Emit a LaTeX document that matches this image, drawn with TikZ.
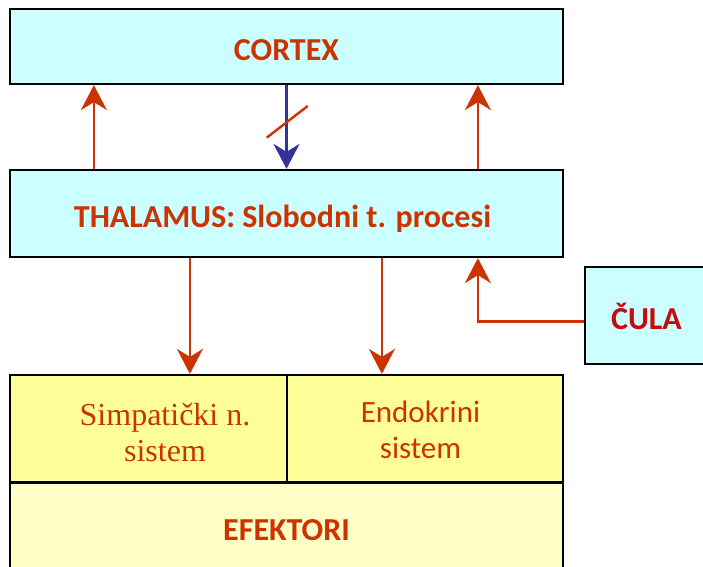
\documentclass[tikz,border=0pt]{standalone}
\usepackage{fontspec}
\setmainfont{Carlito}
\newfontfamily\serifface{Liberation Serif}
\usepackage{tikz}
\usetikzlibrary{arrows.meta}
\definecolor{rust}{RGB}{204,51,0}
\definecolor{deepred}{RGB}{200,10,10}
\definecolor{navy}{RGB}{51,51,153}
\definecolor{palecyan}{RGB}{204,255,255}
\definecolor{lemon}{RGB}{255,255,153}
\definecolor{cream}{RGB}{255,255,198}

\tikzset{
  box/.style={draw=black, line width=2.2pt, rectangle, inner sep=0pt,
    font=\fontsize{32}{36}\selectfont\bfseries, text=rust,
    text height=33pt, text depth=6pt},
  feed/.style={draw=rust, line width=2.7pt,
    -{Stealth[length=25pt,width=26pt,inset=8pt]}},
  sysname/.style={text=rust, align=center},
}

\begin{document}
\begin{tikzpicture}[x=1pt, y=-1pt]
  \clip (0,0) rectangle (703,566);
  % boxes
  \node[box, fill=palecyan, minimum width=553pt, minimum height=75pt] (cortex) at (286.5,46.5) {CORTEX};
  \node[box, fill=palecyan, minimum width=553pt, minimum height=87pt] (thalamus) at (286.5,213.5) {\hspace*{-8pt}THALAMUS: Slobodni t. procesi};
  \node[box, fill=palecyan, text=deepred, minimum width=123pt, minimum height=97pt] (cula) at (646.5,315.5) {ČULA};
  \node[box, fill=lemon, minimum width=277pt, minimum height=107.5pt] (simpbox) at (148.5,428.75) {};
  \node[box, fill=lemon, minimum width=276pt, minimum height=107.5pt] (endobox) at (425,428.75) {};
  \node[box, fill=cream, minimum width=553pt, minimum height=88pt] (efektori) at (286.5,526.5) {EFEKTORI};
  \node[sysname, font=\serifface\fontsize{32}{36.5}\selectfont] (simptext) at (165,432.5) {Simpatički n.\\sistem};
  \node[sysname, font=\fontsize{31}{36.5}\selectfont] (endotext) at (420.5,430) {Endokrini\\sistem};
  % ascending paths
  \draw[feed] ([xshift=85pt]thalamus.north west) -- ([xshift=85pt]cortex.south west);
  \draw[feed] ([xshift=469pt]thalamus.north west) -- ([xshift=469pt]cortex.south west);
  % blocked descending path
  \draw[feed, draw=navy, line width=2.4pt] (cortex.south) -- (thalamus.north);
  \draw[rust, line width=2.4pt] (266.7,137.7) -- (307.7,106);
  % to the effector systems
  \draw[feed] ([xshift=181pt]thalamus.south west) -- ([xshift=181pt]simpbox.north west);
  \draw[feed] ([xshift=96pt]endobox.north west |- thalamus.south) -- ([xshift=96pt]endobox.north west);
  % sensory input
  \draw[feed] ([yshift=-6pt]cula.west) -| ([xshift=469pt]thalamus.south west);
\end{tikzpicture}
\end{document}
